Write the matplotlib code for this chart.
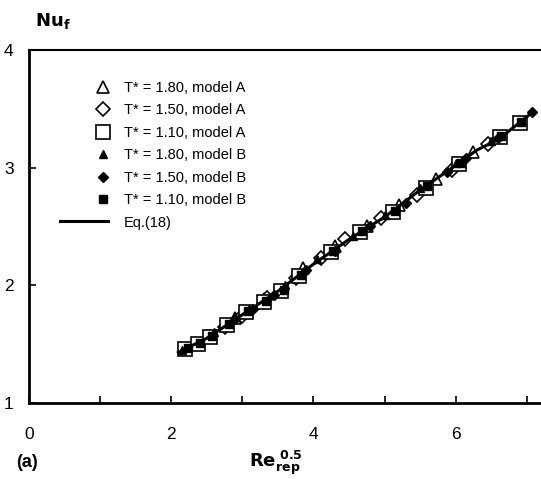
import matplotlib
matplotlib.use("Agg")
import matplotlib.pyplot as plt
from matplotlib.legend_handler import HandlerLine2D
from matplotlib.ticker import MultipleLocator

plt.rcParams['font.family'] = ['Liberation Sans', 'DejaVu Sans']

# ---- data ----
eq_x = [2.1, 2.5, 3.0, 3.5, 4.0, 4.5, 5.0, 5.5, 6.0, 6.3, 6.6, 7.1]
eq_y = [1.43, 1.55, 1.75, 1.95, 2.18, 2.39, 2.58, 2.81, 3.02, 3.15, 3.24, 3.48]

# T* = 1.10
sqA_x = [2.20, 2.37, 2.55, 2.78, 3.05, 3.30, 3.55, 3.80, 4.25, 4.65, 5.12, 5.58, 6.05, 6.62, 6.90]
sqA_y = [1.46, 1.50, 1.56, 1.66, 1.77, 1.86, 1.95, 2.08, 2.28, 2.45, 2.62, 2.83, 3.03, 3.26, 3.38]
sqB_x = [2.23, 2.40, 2.58, 2.81, 3.08, 3.33, 3.58, 3.83, 4.27, 4.68, 5.15, 5.60, 6.07, 6.64, 6.92]
sqB_y = [1.47, 1.51, 1.57, 1.67, 1.78, 1.87, 1.96, 2.09, 2.29, 2.46, 2.63, 2.84, 3.04, 3.27, 3.39]

# T* = 1.50
diA_x = [2.75, 3.00, 3.35, 3.75, 4.10, 4.45, 4.95, 5.45, 5.95, 6.45]
diA_y = [1.65, 1.74, 1.89, 2.06, 2.23, 2.39, 2.57, 2.77, 2.98, 3.20]
diB_x = [2.90, 3.15, 3.45, 3.90, 4.30, 4.80, 5.30, 5.88, 6.15, 6.60, 7.08]
diB_y = [1.71, 1.80, 1.92, 2.13, 2.29, 2.50, 2.70, 2.96, 3.08, 3.25, 3.47]

# T* = 1.80
trA_x = [2.30, 2.90, 3.30, 3.85, 4.30, 4.75, 5.20, 5.72, 6.25]
trA_y = [1.50, 1.72, 1.88, 2.15, 2.33, 2.50, 2.68, 2.90, 3.13]
trB_x = [2.15, 2.60, 3.10, 3.60, 4.05, 4.55, 5.00, 5.50, 6.00, 6.50]
trB_y = [1.45, 1.60, 1.80, 2.00, 2.22, 2.42, 2.60, 2.83, 3.04, 3.23]

labels = ["T* = 1.80, model A", "T* = 1.50, model A", "T* = 1.10, model A",
          "T* = 1.80, model B", "T* = 1.50, model B", "T* = 1.10, model B", "Eq.(18)"]


class RightMarker(HandlerLine2D):
    # put the single marker at the right end of the handle box
    def create_artists(self, legend, orig_handle, xdescent, ydescent, width, height, fontsize, trans):
        arts = super().create_artists(legend, orig_handle, xdescent, ydescent, width, height, fontsize, trans)
        for a in arts:
            a.set_xdata([width - xdescent - 4] * len(a.get_xdata()))
        return arts


fig = plt.figure(figsize=(5.41, 4.79), dpi=100)
ax = fig.add_axes([0.0536, 0.1587, 0.9464, 0.7369])

h1, = ax.plot(trA_x, trA_y, '^', ms=9, mfc='white', mec='black', mew=1.2, ls='none', zorder=3)
h2, = ax.plot(diA_x, diA_y, 'D', ms=7, mfc='white', mec='black', mew=1.2, ls='none', zorder=3)
h3, = ax.plot(sqA_x, sqA_y, 's', ms=10, mfc='white', mec='black', mew=1.2, ls='none', zorder=3)
h4, = ax.plot(trB_x, trB_y, '^', ms=6, color='black', ls='none', zorder=4)
h5, = ax.plot(diB_x, diB_y, 'D', ms=5, color='black', ls='none', zorder=4)
h6, = ax.plot(sqB_x, sqB_y, 's', ms=6, color='black', ls='none', zorder=4)
h7, = ax.plot(eq_x, eq_y, '-', color='black', lw=2.2, zorder=5)

hm = RightMarker(numpoints=1)
ax.legend([h1, h2, h3, h4, h5, h6, h7], labels, loc='upper left',
          bbox_to_anchor=(0.035, 0.95), frameon=False, fontsize=10.5,
          handlelength=3.3, handletextpad=1.1, labelspacing=0.58,
          handler_map={h1: hm, h2: hm, h3: hm, h4: hm, h5: hm, h6: hm})

ax.set_xlim(0, 7.2)
ax.set_ylim(1, 4)
ax.xaxis.set_major_locator(MultipleLocator(2))
ax.xaxis.set_minor_locator(MultipleLocator(1))
ax.yaxis.set_major_locator(MultipleLocator(1))
ax.tick_params(which='both', direction='in', length=5, width=1.2, labelsize=12.5, pad=8)
ax.tick_params(axis='x', which='major', pad=17)
ax.tick_params(axis='y', which='major', pad=11)
ax.spines['right'].set_visible(False)
for s in ['left', 'bottom']:
    ax.spines[s].set_linewidth(2)
ax.spines['top'].set_linewidth(1.5)

fig.text(0.065, 0.945, r'$\mathbf{Nu}_{\mathbf{f}}$', fontsize=13, fontweight='bold')
fig.text(0.51, 0.025, r'$\mathbf{Re}_{\mathbf{rep}}^{\ \mathbf{0.5}}$', fontsize=13, ha='center')
fig.text(0.03, 0.025, '(a)', fontsize=13, fontweight='bold')

fig.savefig("out.png", dpi=100)
